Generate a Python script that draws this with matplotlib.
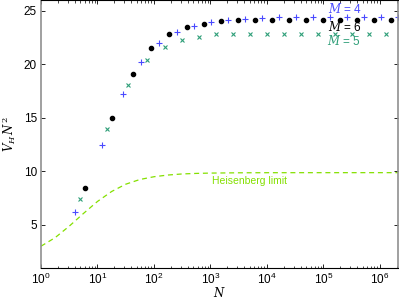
import matplotlib
matplotlib.use("Agg")
import matplotlib.pyplot as plt
from matplotlib.ticker import LogLocator, NullFormatter

plt.rcParams['font.family'] = ['Liberation Sans', 'DejaVu Sans']
plt.rcParams['mathtext.fontset'] = 'dejavuserif'

# M = 6 (black dots)
n_m6 = [6, 18, 42, 90, 186, 378, 762, 1530, 3066, 6138, 12282, 24570, 49146,
        98298, 196602, 393210, 786426, 1572858]
v_m6 = [8.4, 15.0, 19.1, 21.5, 22.8, 23.5, 23.8, 24.0, 24.1, 24.13, 24.13, 24.16,
        24.16, 24.16, 24.16, 24.16, 24.16, 24.16]

# M = 4 (blue plus)
n_m4 = [4, 12, 28, 60, 124, 252, 508, 1020, 2044, 4092, 8188, 16380, 32764,
        65532, 131068, 262140, 524284, 1048572, 2097148]
v_m4 = [6.2, 12.48, 17.18, 20.2, 22.0, 23.0, 23.6, 23.9, 24.13, 24.25, 24.35,
        24.37, 24.37, 24.37, 24.37, 24.37, 24.4, 24.4, 24.4]

# M = 5 (green x)
n_m5 = [5, 15, 35, 75, 155, 315, 635, 1275, 2555, 5115, 10235, 20475, 40955,
        81915, 163835, 327675, 655355, 1310715]
v_m5 = [7.37, 13.94, 18.02, 20.39, 21.6, 22.22, 22.57, 22.79, 22.82, 22.85,
        22.87, 22.87, 22.87, 22.87, 22.87, 22.87, 22.87, 22.87]

# Heisenberg limit (dashed curve)
n_h = [1, 1.78, 3.16, 5.62, 10, 17.8, 31.6, 56.2, 100, 178, 316, 562, 1000,
       3162, 10000, 100000, 1000000, 2097148]
v_h = [3.0, 3.8, 4.87, 6.05, 7.18, 8.11, 8.79, 9.23, 9.49, 9.65, 9.75, 9.80,
       9.83, 9.857, 9.866, 9.869, 9.87, 9.87]

W, H = 399, 299
fig = plt.figure(figsize=(W / 100, H / 100), dpi=100)
ax = fig.add_axes([0.1028, 0.105, 0.8947, 0.895])

c_blue = '#4a4aff'
c_green = '#2e9e78'
c_lime = '#84e000'

ax.plot(n_h, v_h, '--', color=c_lime, lw=0.9, dashes=(4, 3))
ax.plot(n_m6, v_m6, 'o', color='black', ms=3.0, ls='none')
ax.plot(n_m4, v_m4, '+', color=c_blue, ms=4.5, mew=0.8, ls='none')
ax.plot(n_m5, v_m5, 'x', color=c_green, ms=2.8, mew=0.8, ls='none')

ax.set_xscale('log')
ax.set_xlim(1, 2097148)
ax.set_ylim(1, 26)
ax.set_yticks([5, 10, 15, 20, 25])
ax.set_xticks([1, 10, 100, 1e3, 1e4, 1e5, 1e6])
ax.xaxis.set_minor_locator(LogLocator(base=10, subs=range(2, 10), numticks=20))
ax.xaxis.set_minor_formatter(NullFormatter())

ax.tick_params(which='both', direction='in', top=True, right=True, labelsize=8.5,
               pad=3)
ax.tick_params(which='major', length=3, width=0.6)
ax.tick_params(which='minor', length=1.8, width=0.5)

for s in ['left', 'right']:
    ax.spines[s].set_color('#909090')
    ax.spines[s].set_linewidth(1.2)
for s in ['top', 'bottom']:
    ax.spines[s].set_color('black')
    ax.spines[s].set_linewidth(0.8)

ax.set_xlabel('$N$', fontsize=8.5, labelpad=-1)
ax.set_ylabel('$V_H\\,N^2$', fontsize=8.5, labelpad=4)

def fpos(px, py):
    return px / W, 1 - py / H

fig.text(*fpos(345, 9), '$M$ = 4', color=c_blue, fontsize=8.5,
         ha='center', va='center')
fig.text(*fpos(345, 27), '$M$ = 6', color='black', fontsize=8.5,
         ha='center', va='center')
fig.text(*fpos(344, 41), '$M$ = 5', color=c_green, fontsize=8.5,
         ha='center', va='center')
ax.text(5e3, 9.1, 'Heisenberg limit', color=c_lime, fontsize=7.5,
        ha='center', va='center')

fig.savefig('out.png', dpi=100)
